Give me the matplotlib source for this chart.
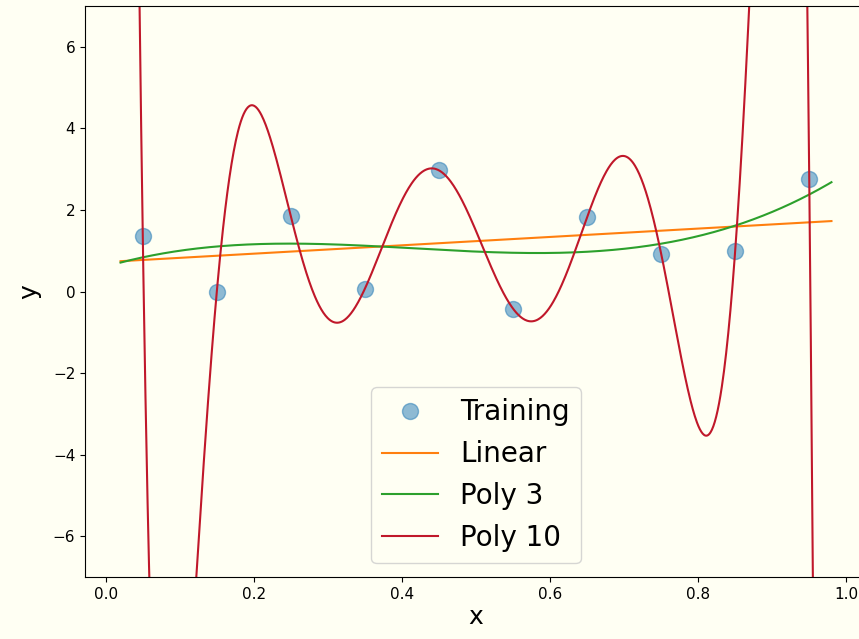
import warnings
import numpy as np
import matplotlib
matplotlib.use("Agg")
import matplotlib.pyplot as plt

warnings.simplefilter("ignore")

# Training data
x_train = [0.05, 0.15, 0.25, 0.35, 0.45, 0.55, 0.65, 0.75, 0.85, 0.95]
y_train = [1.37, 0.00, 1.84, 0.07, 2.97, -0.42, 1.82, 0.93, 1.00, 2.77]
fit_degrees = [1, 3, 10]
fit_labels = ["Linear", "Poly 3", "Poly 10"]
fit_colors = ["#ff7f0e", "#2ca02c", "#c0182a"]
x_range = [0.02, 0.98]

bg = "#fffff3"
fig = plt.figure(figsize=(8.59, 6.39), dpi=100, facecolor=bg)
ax = fig.add_axes([85 / 859, 62 / 639, (867 - 85) / 859, (577 - 6) / 639])
ax.set_facecolor(bg)

xs = np.linspace(x_range[0], x_range[1], 1000)
xt = np.array(x_train)
yt = np.array(y_train)

ax.plot(x_train, y_train, "o", ms=11.5, color="#1f77b4", alpha=0.5, label="Training")
for d, lab, c in zip(fit_degrees, fit_labels, fit_colors):
    coef = np.polyfit(xt, yt, d)
    ax.plot(xs, np.polyval(coef, xs), color=c, lw=1.5, label=lab)

ax.set_ylim(-7, 7)
ax.set_xlim(-0.028, 1.028)
ax.set_xticks([0.0, 0.2, 0.4, 0.6, 0.8, 1.0])
ax.set_yticks([-6, -4, -2, 0, 2, 4, 6])
ax.set_yticklabels(["\u22126", "\u22124", "\u22122", "0", "2", "4", "6"])
ax.tick_params(labelsize=11)
ax.set_xlabel("x", fontsize=18, labelpad=2)
ax.set_ylabel("y", fontsize=18, labelpad=8)
leg = ax.legend(loc="lower center", fontsize=20, facecolor=bg, framealpha=0.8)

fig.savefig("out.png", dpi=100, facecolor=bg)
